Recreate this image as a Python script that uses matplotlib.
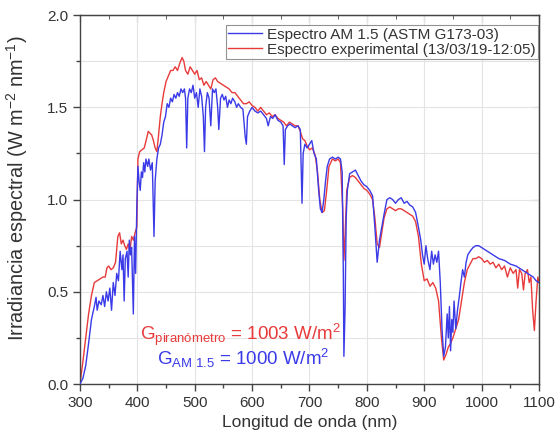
import matplotlib
matplotlib.use("Agg")
import matplotlib.pyplot as plt
from matplotlib.ticker import MultipleLocator

plt.rcParams['font.family'] = ['Liberation Sans', 'DejaVu Sans']
plt.rcParams['mathtext.fontset'] = 'custom'
plt.rcParams['mathtext.rm'] = 'Liberation Sans'
plt.rcParams['mathtext.it'] = 'Liberation Sans'

# AM 1.5 reference spectrum (ASTM G173-03)
am15_wl = [300, 305, 310, 315, 320, 325, 328, 330, 333, 337, 340, 343, 346, 349, 352, 355, 358, 361, 364, 367,
           370, 373, 375, 377, 379, 382, 384, 386, 388, 390, 393, 395, 397, 399, 401, 403, 405, 407, 409, 411,
           413, 415, 418, 420, 423, 426, 429, 431, 434, 437, 440, 443, 446, 449, 452, 455, 458, 461, 464, 467,
           470, 473, 476, 479, 482, 484, 486, 488, 491, 494, 497, 500, 503, 506, 509, 512, 515, 517, 519, 522,
           525, 528, 531, 534, 537, 540, 542, 545, 548, 551, 554, 557, 560, 563, 566, 570, 573, 576, 580, 584,
           588, 590, 592, 596, 600, 605, 610, 615, 620, 625, 628, 632, 636, 640, 645, 650, 654, 656, 658, 662,
           666, 670, 675, 680, 684, 687, 689, 692, 696, 700, 704, 708, 712, 716, 719, 722, 725, 728, 731, 735,
           740, 745, 750, 754, 757, 759, 760, 762, 764, 766, 770, 775, 780, 785, 790, 795, 800, 805, 810, 814,
           818, 822, 826, 830, 835, 840, 845, 850, 855, 860, 865, 870, 875, 880, 885, 890, 894, 897, 900, 903,
           906, 910, 913, 916, 919, 922, 925, 928, 931, 934, 937, 940, 942, 944, 946, 948, 950, 952, 955, 958,
           961, 964, 967, 970, 973, 976, 980, 985, 990, 995, 1000, 1010, 1020, 1030, 1040, 1050, 1060, 1070,
           1080, 1090, 1095, 1100]
am15_irr = [0.0, 0.03, 0.10, 0.22, 0.35, 0.42, 0.47, 0.40, 0.45, 0.43, 0.48, 0.42, 0.50, 0.45, 0.52, 0.40, 0.55, 0.48, 0.60, 0.56,
            0.72, 0.62, 0.70, 0.45, 0.68, 0.72, 0.58, 0.78, 0.70, 0.74, 0.38, 0.80, 0.60, 0.95, 1.18, 1.10, 1.05, 1.15, 1.12, 1.20,
            1.15, 1.22, 1.18, 1.22, 1.16, 1.20, 0.80, 1.10, 1.22, 1.28, 1.30, 1.35, 1.42, 1.45, 1.52, 1.50, 1.55, 1.53, 1.57, 1.55,
            1.58, 1.56, 1.60, 1.58, 1.60, 1.55, 1.28, 1.55, 1.60, 1.58, 1.62, 1.55, 1.58, 1.50, 1.60, 1.56, 1.45, 1.26, 1.50, 1.58,
            1.55, 1.40, 1.60, 1.58, 1.60, 1.50, 1.38, 1.55, 1.57, 1.54, 1.56, 1.50, 1.54, 1.52, 1.55, 1.53, 1.50, 1.52, 1.50, 1.49,
            1.34, 1.30, 1.45, 1.48, 1.50, 1.48, 1.47, 1.48, 1.46, 1.44, 1.40, 1.45, 1.44, 1.46, 1.43, 1.42, 1.40, 1.19, 1.38, 1.40,
            1.41, 1.40, 1.39, 1.40, 1.38, 0.98, 1.25, 1.30, 1.28, 1.30, 1.32, 1.25, 1.22, 1.05, 0.95, 0.93, 1.00, 1.10, 1.18, 1.22,
            1.23, 1.22, 1.23, 1.22, 1.15, 0.60, 0.15, 0.40, 0.90, 1.05, 1.14, 1.15, 1.16, 1.13, 1.10, 1.08, 1.07, 1.05, 1.02, 0.85,
            0.66, 0.78, 0.85, 0.92, 1.00, 1.01, 1.00, 0.98, 1.00, 1.01, 0.98, 0.99, 0.97, 0.96, 0.93, 0.85, 0.78, 0.70, 0.65, 0.75,
            0.68, 0.62, 0.72, 0.65, 0.70, 0.66, 0.72, 0.55, 0.30, 0.15, 0.20, 0.38, 0.25, 0.42, 0.18, 0.35, 0.28, 0.45, 0.30, 0.40,
            0.47, 0.55, 0.62, 0.58, 0.66, 0.70, 0.72, 0.74, 0.75, 0.75, 0.74, 0.72, 0.70, 0.68, 0.67, 0.65, 0.64, 0.62,
            0.60, 0.58, 0.56, 0.55]

# Experimental spectrum (13/03/19-12:05)
exp_wl = [300, 305, 310, 315, 320, 325, 330, 335, 340, 344, 347, 350, 354, 358, 362, 366, 369, 372, 375, 378,
          381, 384, 387, 390, 393, 396, 399, 401, 404, 408, 412, 416, 419, 422, 425, 428, 431, 434, 437, 440,
          443, 446, 450, 454, 458, 462, 466, 470, 474, 478, 481, 484, 488, 492, 496, 500, 504, 508, 512, 516,
          520, 524, 528, 532, 536, 540, 545, 550, 555, 560, 565, 570, 575, 580, 585, 590, 595, 600, 605, 610,
          615, 620, 625, 630, 635, 640, 645, 650, 655, 660, 665, 670, 675, 680, 684, 688, 692, 696, 700, 705,
          710, 714, 718, 722, 726, 730, 734, 740, 745, 750, 754, 758, 760, 762, 765, 770, 775, 780, 785, 790,
          795, 800, 805, 810, 814, 818, 822, 826, 830, 835, 840, 845, 850, 855, 860, 865, 870, 875, 880, 885,
          890, 895, 900, 905, 910, 915, 920, 925, 930, 934, 938, 942, 946, 950, 955, 960, 965, 970, 975, 980,
          985, 990, 995, 1000, 1005, 1010, 1015, 1020, 1025, 1030, 1035, 1040, 1045, 1050, 1055, 1060, 1063,
          1066, 1070, 1073, 1076, 1080, 1083, 1086, 1089, 1092, 1095, 1098, 1100]
exp_irr = [0.0, 0.12, 0.25, 0.38, 0.48, 0.55, 0.56, 0.57, 0.58, 0.58, 0.63, 0.64, 0.62, 0.63, 0.66, 0.80, 0.82, 0.76, 0.78, 0.75,
           0.73, 0.76, 0.72, 0.80, 0.78, 0.82, 0.85, 1.22, 1.26, 1.27, 1.28, 1.33, 1.37, 1.36, 1.35, 1.32, 1.28, 1.26, 1.35, 1.45,
           1.52, 1.58, 1.64, 1.67, 1.70, 1.70, 1.72, 1.70, 1.74, 1.77, 1.75, 1.70, 1.68, 1.72, 1.70, 1.68, 1.70, 1.65, 1.66, 1.62,
           1.64, 1.62, 1.60, 1.65, 1.66, 1.64, 1.63, 1.62, 1.61, 1.60, 1.58, 1.58, 1.56, 1.54, 1.52, 1.52, 1.53, 1.51, 1.50, 1.48,
           1.50, 1.48, 1.46, 1.47, 1.45, 1.46, 1.44, 1.43, 1.42, 1.40, 1.42, 1.41, 1.40, 1.40, 1.37, 1.33, 1.32, 1.29, 1.27, 1.28,
           1.24, 1.15, 1.00, 0.93, 0.94, 1.05, 1.18, 1.22, 1.21, 1.22, 1.20, 0.95, 0.67, 0.80, 1.05, 1.12, 1.13, 1.12, 1.10, 1.08,
           1.06, 1.05, 1.03, 1.00, 0.90, 0.76, 0.74, 0.82, 0.90, 0.95, 0.96, 0.95, 0.94, 0.95, 0.95, 0.94, 0.93, 0.92, 0.91, 0.88,
           0.80, 0.65, 0.56, 0.57, 0.53, 0.55, 0.52, 0.45, 0.25, 0.13, 0.16, 0.20, 0.22, 0.25, 0.30, 0.35, 0.45, 0.55, 0.62, 0.65,
           0.68, 0.68, 0.69, 0.68, 0.66, 0.67, 0.65, 0.66, 0.63, 0.65, 0.62, 0.64, 0.58, 0.63, 0.60, 0.62, 0.52,
           0.62, 0.60, 0.51, 0.60, 0.62, 0.55, 0.58, 0.40, 0.29, 0.45, 0.58, 0.55]

labels = ['Espectro AM 1.5 (ASTM G173-03)', 'Espectro experimental (13/03/19-12:05)']
x_ticks = [300, 400, 500, 600, 700, 800, 900, 1000, 1100]
y_ticks = [0.0, 0.5, 1.0, 1.5, 2.0]

BLUE = '#3a3ae8'
RED = '#e83a3a'
TXT = '#333333'

fig = plt.figure(figsize=(5.57, 4.46), dpi=100)
ax = fig.add_axes([0.1436, 0.139, 0.824, 0.827])

ax.plot(am15_wl, am15_irr, color=BLUE, lw=1.0, label=labels[0], zorder=3)
ax.plot(exp_wl, exp_irr, color=RED, lw=1.0, label=labels[1], zorder=2)

ax.set_xlim(300, 1100)
ax.set_ylim(0, 2.0)
ax.set_xticks(x_ticks)
ax.set_yticks(y_ticks)
ax.set_yticklabels([f'{v:.1f}' for v in y_ticks])
ax.xaxis.set_minor_locator(MultipleLocator(50))
ax.yaxis.set_minor_locator(MultipleLocator(0.25))

ax.grid(True, which='major', axis='x', color='#e4e4e4', lw=0.8)
ax.grid(True, which='both', axis='y', color='#e4e4e4', lw=0.8)
ax.set_axisbelow(True)

ax.tick_params(which='both', direction='out', top=False, right=False, colors='#444444',
               labelcolor=TXT, labelsize=11)
ax.tick_params(which='major', length=5, width=1)
ax.tick_params(which='minor', length=3, width=1)
# mirrored ticks pointing inward at top and right
secx = ax.secondary_xaxis('top')
secx.set_xticks(x_ticks)
secx.xaxis.set_minor_locator(MultipleLocator(50))
secx.tick_params(which='both', direction='in', labeltop=False, colors='#444444')
secx.tick_params(which='major', length=5)
secx.tick_params(which='minor', length=3)
secy = ax.secondary_yaxis('right')
secy.set_yticks(y_ticks)
secy.yaxis.set_minor_locator(MultipleLocator(0.25))
secy.tick_params(which='both', direction='in', labelright=False, colors='#444444')
secy.tick_params(which='major', length=5)
secy.tick_params(which='minor', length=3)

for s in ax.spines.values():
    s.set_color('#444444')
    s.set_linewidth(1.0)
for s in list(secx.spines.values()) + list(secy.spines.values()):
    s.set_color('#444444')

ax.set_xlabel('Longitud de onda (nm)', fontsize=12.5, color=TXT, labelpad=4)
ax.set_ylabel('Irradiancia espectral (W m$^{-2}$ nm$^{-1}$)', fontsize=14.3, color=TXT)
ax.yaxis.set_label_coords(-0.108, 0.53)

leg = ax.legend(loc='upper right', fontsize=11, frameon=True, fancybox=False,
                borderpad=0.15, handlelength=2.2, handletextpad=0.3, labelspacing=0.05,
                bbox_to_anchor=(0.997, 0.972), borderaxespad=0.0)
leg.get_frame().set_edgecolor('#777777')
leg.get_frame().set_linewidth(0.8)
for t in leg.get_texts():
    t.set_color(TXT)

ax.text(0.130, 0.134, 'G$_{\\mathrm{piranómetro}}$ = 1003 W/m$^{2}$', transform=ax.transAxes,
        color=RED, fontsize=13.5, ha='left', va='center')
ax.text(0.168, 0.070, 'G$_{\\mathrm{AM\\ 1.5}}$ = 1000 W/m$^{2}$', transform=ax.transAxes,
        color=BLUE, fontsize=13.5, ha='left', va='center')

fig.savefig('out.png', dpi=100)
